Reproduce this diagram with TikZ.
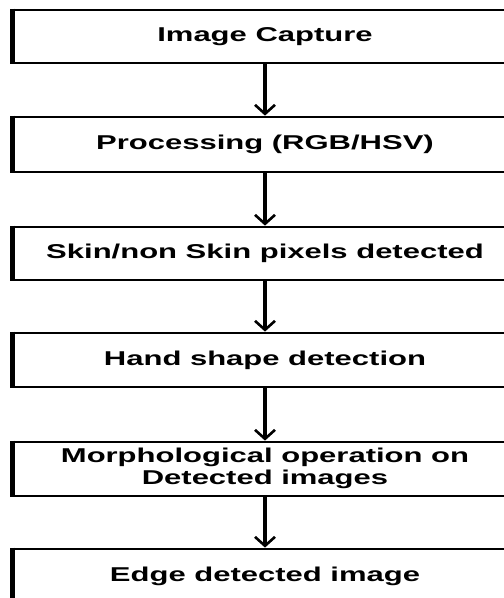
\documentclass[tikz,border=0pt]{standalone}
\usepackage{fontspec}
\setmainfont{Liberation Sans}
\usetikzlibrary{arrows.meta}
\newcommand\sx[1]{\scalebox{1.55}[1]{#1}}
\tikzset{
  box/.style={draw, line width=2.8pt, minimum width=502pt, minimum height=53pt, inner sep=0pt,
    font=\bfseries\fontsize{20}{22}\selectfont, text=black},
  flow/.style={line width=3.6pt, -{Straight Barb[length=9pt,width=20pt,line width=2.6pt]}},
  leftedge/.style={line width=5.5pt}
}
\begin{document}
\begin{tikzpicture}[x=1pt,y=-1pt]
\useasboundingbox (0,0) rectangle (504,598);
\clip (0,0) rectangle (504,598);
\fill[white] (0,0) rectangle (504,598);
\node[box] (b1) at (265,36.5) {\sx{Image Capture}};
\node[box, minimum height=55pt] (b2) at (265,144.5) {\sx{Processing (RGB/HSV)}};
\node[box] (b3) at (265,253.5) {\sx{Skin/non Skin pixels detected}};
\node[box, minimum height=54pt] (b4) at (265,360) {\sx{Hand shape detection}};
\node[box, minimum height=54pt] (b5) at (265,469) {\sx{\begin{tabular}{@{}c@{}}Morphological operation on\\Detected images\end{tabular}}};
\node[box, minimum height=54pt] (b6) at (265,576) {\sx{Edge detected image}};
\foreach \n in {b1,b2,b3,b4,b5,b6}{
  \draw[leftedge] (\n.north west) -- (\n.south west);
}
\draw[flow] (b1.south) -- (b2.north);
\draw[flow] (b2.south) -- (b3.north);
\draw[flow] (b3.south) -- (b4.north);
\draw[flow] (b4.south) -- (b5.north);
\draw[flow] (b5.south) -- (b6.north);
\end{tikzpicture}
\end{document}
